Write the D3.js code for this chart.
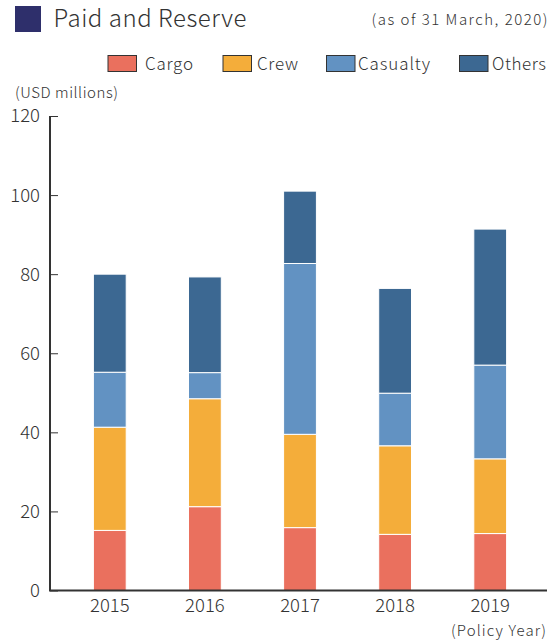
<!DOCTYPE html>
<html lang="en">
<head>
    <meta charset="UTF-8">
    <title>Paid and Reserve</title>
    <script src="https://d3js.org/d3.v7.min.js"></script>
    <style>
        body {
            margin: 0;
            padding: 0;
            background-color: #fff;
            font-family: "Noto Sans CJK JP", "Noto Sans", sans-serif;
        }
        svg text {
            fill: #333;
            font-weight: 300;
        }
        .y-axis path, .x-axis path {
            stroke: #333;
            stroke-width: 2px;
        }
        .y-axis line {
            stroke: #333;
        }
    </style>
</head>
<body>
    <svg width="554" height="641"></svg>

    <script>
        // Data (USD millions)
        const years = ["2015", "2016", "2017", "2018", "2019"];
        const seriesNames = ["Cargo", "Crew", "Casualty", "Others"];
        const cargo    = [15.2, 21.2, 15.9, 14.2, 14.4];
        const crew     = [26.1, 27.3, 23.6, 22.4, 18.9];
        const casualty = [13.9,  6.6, 43.2, 13.3, 23.7];
        const others   = [24.8, 24.2, 18.3, 26.5, 34.4];
        const yTicks   = [0, 20, 40, 60, 80, 100, 120];

        const colors = {
            Cargo: "#ea705e",
            Crew: "#f4ad3a",
            Casualty: "#6292c2",
            Others: "#3c6892"
        };

        // Build rows for d3.stack
        const rows = years.map((y, i) => ({
            year: y,
            Cargo: cargo[i],
            Crew: crew[i],
            Casualty: casualty[i],
            Others: others[i]
        }));

        const svg = d3.select("svg");

        // Scales
        const x = d3.scaleBand()
            .domain(years)
            .range([62, 538])
            .paddingInner(0.655)
            .paddingOuter(0.33);

        const y = d3.scaleLinear()
            .domain([0, 120])
            .range([590.5, 116]);

        // Title
        svg.append("rect")
            .attr("x", 15).attr("y", 6)
            .attr("width", 26).attr("height", 26)
            .attr("fill", "#2e2f6b");

        svg.append("text")
            .attr("x", 53.5).attr("y", 27)
            .attr("textLength", 193)
            .attr("lengthAdjust", "spacing")
            .style("font-size", "24px")
            .text("Paid and Reserve");

        svg.append("text")
            .attr("x", 371.5).attr("y", 24.5)
            .attr("textLength", 176)
            .attr("lengthAdjust", "spacing")
            .style("font-size", "15px")
            .text("(as of 31 March, 2020)");

        // Legend
        const legendX = [108, 223, 326.5, 459.5];
        const legendTextX = [145, 257, 358, 492];
        const legendTextW = [48, 41, 72, 54];
        const legend = svg.append("g").attr("class", "legend");
        seriesNames.forEach((name, i) => {
            legend.append("rect")
                .attr("x", legendX[i]).attr("y", 55.5)
                .attr("width", 28.5).attr("height", 16)
                .attr("fill", colors[name])
                .attr("stroke", "#333")
                .attr("stroke-width", 1);
            legend.append("text")
                .attr("x", legendTextX[i]).attr("y", 69.5)
                .attr("textLength", legendTextW[i])
                .attr("lengthAdjust", "spacing")
                .style("font-size", "17px")
                .text(name);
        });

        svg.append("text")
            .attr("x", 15).attr("y", 97.5)
            .attr("textLength", 103)
            .attr("lengthAdjust", "spacing")
            .style("font-size", "15px")
            .text("(USD millions)");

        // Bars
        const stacked = d3.stack().keys(seriesNames)(rows);

        svg.append("g")
            .selectAll("g")
            .data(stacked)
            .join("g")
            .attr("fill", d => colors[d.key])
            .selectAll("rect")
            .data(d => d)
            .join("rect")
            .attr("x", d => x(d.data.year))
            .attr("y", d => y(d[1]))
            .attr("width", x.bandwidth())
            .attr("height", d => y(d[0]) - y(d[1]))
            .attr("stroke", "#fff")
            .attr("stroke-width", 1);

        // Y axis
        const yAxis = d3.axisRight(y)
            .tickValues(yTicks)
            .tickSize(8)
            .tickSizeOuter(0)
            .tickFormat(d3.format("d"));

        const yg = svg.append("g")
            .attr("class", "y-axis")
            .attr("transform", "translate(50,0)")
            .call(yAxis)
            .attr("font-family", null)
            .attr("font-size", null);
        yg.selectAll("text")
            .attr("x", -10)
            .attr("text-anchor", "end")
            .style("font-size", "18.5px");
        yg.select(".domain").attr("d", `M0,${y(120)}V${y(0)}`);

        // X axis
        const xg = svg.append("g")
            .attr("class", "x-axis")
            .attr("transform", `translate(0,${y(0)})`)
            .call(d3.axisBottom(x).tickSize(0).tickSizeOuter(0))
            .attr("font-family", null)
            .attr("font-size", null);
        xg.select(".domain").attr("d", "M49,0H547");
        xg.selectAll("text")
            .attr("y", 21.5)
            .attr("dy", 0)
            .style("font-size", "18.5px");

        svg.append("text")
            .attr("x", 451).attr("y", 635.5)
            .attr("textLength", 95)
            .attr("lengthAdjust", "spacing")
            .style("font-size", "15px")
            .text("(Policy Year)");
    </script>
</body>
</html>
